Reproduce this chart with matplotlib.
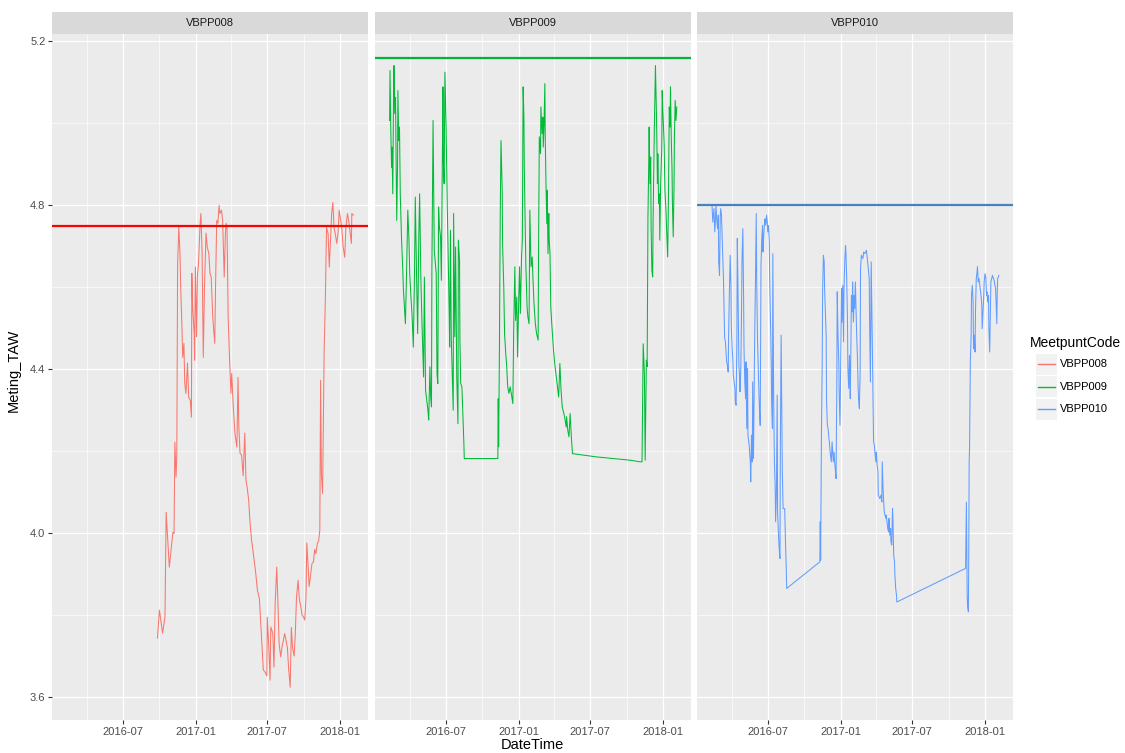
import numpy as np
import pandas as pd
import matplotlib
matplotlib.use('Agg')
import matplotlib.pyplot as plt
import matplotlib.dates as mdates
from matplotlib.patches import Rectangle

plt.rcParams['font.family'] = ['Liberation Sans', 'DejaVu Sans']

# Meting_TAW per meetpunt, dag = days since 2016-01-01
dag_008 = [269, 274, 282, 288, 291, 299, 308, 311, 313, 316,
           318, 320, 323, 326, 328, 331, 333, 336, 338, 341,
           345, 348, 352, 355, 356, 358, 362, 363, 365, 368,
           370, 373, 377, 379, 382, 385, 388, 392, 395, 399,
           402, 405, 409, 414, 416, 419, 422, 425, 427, 431,
           434, 438, 441, 443, 445, 448, 451, 455, 457, 461,
           465, 470, 473, 475, 478, 482, 486, 490, 493, 496,
           500, 503, 507, 513, 518, 522, 527, 530, 534, 537,
           542, 546, 547, 551, 554, 556, 561, 564, 567, 571,
           574, 577, 581, 584, 588, 591, 594, 598, 601, 605,
           608, 611, 615, 618, 621, 625, 628, 632, 635, 638,
           642, 645, 647, 650, 653, 657, 660, 664, 667, 670,
           674, 677, 680, 682, 684, 687, 689, 691, 694, 697,
           701, 704, 707, 710, 713, 716, 719, 723, 726, 729,
           733, 736, 739, 743, 746, 750, 753, 756, 760, 761,
           765]
taw_008 = [3.744, 3.812, 3.756, 3.795, 4.051, 3.917, 4.002, 3.999, 4.222, 4.137,
           4.195, 4.654, 4.746, 4.683, 4.593, 4.502, 4.429, 4.463, 4.366, 4.341,
           4.415, 4.332, 4.324, 4.283, 4.634, 4.551, 4.488, 4.422, 4.649, 4.479,
           4.625, 4.659, 4.756, 4.780, 4.683, 4.429, 4.600, 4.732, 4.698, 4.683,
           4.634, 4.625, 4.527, 4.463, 4.600, 4.763, 4.756, 4.800, 4.780, 4.788,
           4.763, 4.625, 4.731, 4.756, 4.746, 4.527, 4.439, 4.341, 4.390, 4.307,
           4.244, 4.210, 4.380, 4.260, 4.195, 4.190, 4.140, 4.244, 4.130, 4.112,
           4.080, 4.030, 3.985, 3.940, 3.900, 3.861, 3.840, 3.788, 3.723, 3.666,
           3.660, 3.652, 3.795, 3.720, 3.641, 3.771, 3.755, 3.673, 3.829, 3.917,
           3.830, 3.730, 3.698, 3.720, 3.740, 3.755, 3.740, 3.720, 3.670, 3.624,
           3.770, 3.720, 3.700, 3.755, 3.844, 3.885, 3.840, 3.820, 3.800, 3.797,
           3.788, 3.845, 3.976, 3.927, 3.870, 3.900, 3.925, 3.930, 3.960, 3.950,
           3.976, 3.980, 4.007, 4.373, 4.146, 4.097, 4.283, 4.446, 4.568, 4.746,
           4.731, 4.649, 4.715, 4.780, 4.807, 4.746, 4.731, 4.707, 4.731, 4.788,
           4.763, 4.739, 4.699, 4.673, 4.746, 4.780, 4.763, 4.739, 4.707, 4.780,
           4.776]

dag_009 = [39, 40, 42, 44, 45, 47, 49, 50, 52, 54,
           55, 57, 59, 60, 62, 64, 66, 69, 72, 74,
           76, 79, 82, 85, 88, 90, 93, 96, 99, 102,
           104, 107, 110, 113, 115, 118, 121, 125, 127, 130,
           133, 136, 138, 141, 143, 145, 146, 149, 151, 152,
           157, 159, 161, 163, 165, 168, 170, 172, 174, 175,
           177, 179, 182, 185, 188, 190, 191, 193, 195, 197,
           200, 201, 204, 206, 209, 212, 213, 216, 217, 219,
           222, 225, 227, 228, 313, 314, 315, 317, 319, 321,
           324, 325, 328, 330, 333, 335, 338, 341, 344, 347,
           351, 353, 356, 358, 361, 363, 366, 368, 370, 373,
           375, 377, 379, 380, 382, 384, 387, 389, 392, 394,
           397, 400, 402, 405, 408, 411, 415, 416, 418, 421,
           422, 425, 427, 428, 430, 432, 433, 435, 437, 438,
           440, 442, 443, 445, 447, 450, 454, 457, 460, 464,
           467, 470, 473, 476, 480, 482, 486, 487, 490, 493,
           496, 499, 502, 563, 648, 673, 678, 681, 684, 686,
           689, 691, 693, 695, 696, 698, 700, 701, 703, 705,
           706, 709, 711, 712, 715, 717, 718, 720, 722, 723,
           725, 728, 729, 731, 734, 736, 739, 740, 743, 745,
           747, 749, 750, 752, 754, 755, 757, 759, 760, 762,
           764, 766]
taw_009 = [5.007, 5.129, 4.983, 4.893, 4.942, 4.828, 5.080, 5.141, 5.024, 5.064,
           4.950, 4.763, 4.893, 5.080, 4.958, 4.991, 4.828, 4.723, 4.650, 4.593,
           4.560, 4.511, 4.641, 4.788, 4.715, 4.633, 4.576, 4.528, 4.454, 4.633,
           4.820, 4.641, 4.487, 4.731, 4.828, 4.625, 4.511, 4.381, 4.625, 4.349,
           4.324, 4.300, 4.276, 4.406, 4.332, 4.308, 4.641, 5.007, 4.796, 4.690,
           4.633, 4.389, 4.365, 4.796, 4.747, 4.723, 4.617, 4.853, 5.089, 4.910,
           4.853, 5.125, 4.991, 4.796, 4.633, 4.528, 4.454, 4.739, 4.479, 4.406,
           4.300, 4.780, 4.479, 4.698, 4.381, 4.267, 4.715, 4.666, 4.471, 4.365,
           4.357, 4.276, 4.219, 4.182, 4.182, 4.328, 4.211, 4.446, 4.771, 4.958,
           4.837, 4.706, 4.601, 4.487, 4.438, 4.414, 4.357, 4.341, 4.357, 4.341,
           4.316, 4.487, 4.650, 4.519, 4.576, 4.430, 4.576, 4.650, 4.536, 4.674,
           4.715, 5.089, 5.015, 4.885, 4.763, 4.650, 4.552, 4.528, 4.511, 4.788,
           4.650, 4.674, 4.617, 4.552, 4.511, 4.487, 4.471, 4.682, 4.967, 4.926,
           5.040, 4.975, 5.015, 4.942, 4.999, 5.097, 4.967, 4.845, 4.755, 4.837,
           4.682, 4.780, 4.715, 4.682, 4.552, 4.503, 4.446, 4.414, 4.389, 4.357,
           4.332, 4.414, 4.349, 4.308, 4.292, 4.284, 4.259, 4.284, 4.251, 4.235,
           4.292, 4.235, 4.194, 4.186, 4.178, 4.174, 4.174, 4.462, 4.389, 4.178,
           4.422, 4.406, 4.771, 4.902, 4.991, 4.853, 4.918, 4.747, 4.641, 4.625,
           4.763, 4.975, 5.089, 5.141, 4.999, 4.853, 4.926, 4.804, 4.828, 4.715,
           4.845, 4.942, 5.080, 5.024, 4.950, 4.837, 4.780, 4.747, 4.674, 4.828,
           5.040, 4.991, 5.089, 4.967, 4.885, 4.804, 4.723, 4.845, 4.967, 5.056,
           5.007, 5.040]

dag_010 = [40, 42, 45, 47, 49, 50, 52, 54, 56, 57,
           59, 61, 62, 64, 66, 67, 69, 71, 72, 74,
           76, 77, 79, 81, 82, 84, 86, 88, 89, 91,
           93, 94, 96, 98, 99, 101, 103, 104, 106, 108,
           110, 111, 113, 115, 116, 118, 120, 121, 123, 125,
           126, 128, 130, 131, 134, 137, 138, 140, 142, 143,
           145, 147, 148, 150, 152, 153, 155, 157, 158, 160,
           162, 163, 164, 166, 168, 169, 171, 173, 174, 176,
           178, 180, 181, 183, 185, 186, 188, 190, 191, 193,
           194, 196, 198, 200, 201, 203, 205, 206, 208, 210,
           212, 213, 215, 217, 218, 220, 224, 226, 228, 229,
           313, 314, 315, 317, 319, 320, 322, 324, 325, 327,
           329, 330, 332, 334, 336, 337, 339, 341, 342, 344,
           346, 347, 349, 351, 352, 354, 356, 357, 359, 361,
           362, 364, 366, 368, 369, 371, 373, 374, 376, 378,
           379, 381, 383, 384, 386, 388, 390, 391, 393, 395,
           396, 398, 400, 401, 403, 405, 406, 408, 410, 411,
           413, 415, 416, 418, 422, 424, 427, 431, 434, 438,
           439, 441, 443, 444, 446, 448, 449, 451, 453, 455,
           456, 458, 460, 461, 465, 468, 470, 471, 473, 475,
           476, 478, 480, 481, 483, 485, 487, 488, 490, 492,
           493, 495, 497, 498, 500, 502, 503, 505, 507, 508,
           682, 684, 686, 687, 689, 690, 691, 692, 694, 696,
           697, 699, 701, 702, 704, 706, 707, 709, 711, 712,
           714, 716, 718, 719, 721, 723, 724, 726, 728, 729,
           731, 733, 735, 736, 738, 740, 741, 743, 745, 746,
           748, 750, 751, 753, 755, 756, 758, 760, 761, 762,
           763, 765, 766]
taw_010 = [4.800, 4.759, 4.792, 4.735, 4.767, 4.800, 4.767, 4.743, 4.776, 4.662,
           4.629, 4.776, 4.792, 4.776, 4.711, 4.678, 4.621, 4.532, 4.475, 4.467,
           4.434, 4.418, 4.410, 4.393, 4.483, 4.589, 4.678, 4.597, 4.499, 4.450,
           4.418, 4.385, 4.369, 4.353, 4.320, 4.312, 4.475, 4.719, 4.580, 4.410,
           4.377, 4.345, 4.410, 4.564, 4.670, 4.743, 4.572, 4.450, 4.369, 4.328,
           4.418, 4.255, 4.402, 4.239, 4.215, 4.174, 4.125, 4.239, 4.174, 4.369,
           4.182, 4.369, 4.475, 4.613, 4.780, 4.629, 4.483, 4.402, 4.369, 4.304,
           4.263, 4.442, 4.654, 4.719, 4.751, 4.686, 4.727, 4.759, 4.767, 4.751,
           4.776, 4.759, 4.735, 4.751, 4.711, 4.621, 4.515, 4.418, 4.320, 4.255,
           4.682, 4.337, 4.174, 4.109, 4.028, 4.093, 4.337, 4.052, 4.003, 3.963,
           3.938, 4.206, 4.483, 4.255, 4.150, 4.060, 4.060, 3.979, 3.914, 3.865,
           3.930, 4.028, 3.934, 4.239, 4.418, 4.589, 4.678, 4.662, 4.597, 4.540,
           4.483, 4.320, 4.263, 4.255, 4.231, 4.223, 4.198, 4.182, 4.174, 4.223,
           4.190, 4.174, 4.198, 4.166, 4.158, 4.133, 4.369, 4.589, 4.483, 4.418,
           4.337, 4.263, 4.442, 4.597, 4.515, 4.605, 4.467, 4.589, 4.662, 4.702,
           4.686, 4.621, 4.515, 4.402, 4.353, 4.434, 4.328, 4.402, 4.580, 4.540,
           4.613, 4.515, 4.580, 4.548, 4.613, 4.532, 4.491, 4.434, 4.353, 4.328,
           4.304, 4.393, 4.645, 4.678, 4.670, 4.686, 4.682, 4.690, 4.662, 4.621,
           4.515, 4.369, 4.662, 4.597, 4.450, 4.304, 4.223, 4.215, 4.190, 4.174,
           4.198, 4.166, 4.150, 4.093, 4.084, 4.093, 4.076, 4.174, 4.109, 4.068,
           4.052, 4.044, 4.036, 4.044, 4.028, 4.011, 4.003, 4.036, 3.995, 4.011,
           3.979, 3.971, 4.060, 4.036, 3.946, 3.930, 3.898, 3.865, 3.849, 3.832,
           3.914, 4.076, 3.849, 3.824, 3.808, 3.946, 4.174, 4.206, 4.418, 4.483,
           4.580, 4.605, 4.564, 4.450, 4.483, 4.442, 4.540, 4.621, 4.637, 4.650,
           4.613, 4.621, 4.605, 4.597, 4.580, 4.556, 4.499, 4.540, 4.580, 4.613,
           4.633, 4.625, 4.580, 4.589, 4.564, 4.580, 4.499, 4.442, 4.556, 4.613,
           4.621, 4.629, 4.625, 4.621, 4.613, 4.605, 4.597, 4.540, 4.511, 4.580,
           4.621, 4.625, 4.629]

codes = ['VBPP008', 'VBPP009', 'VBPP010']
dagen = [dag_008, dag_009, dag_010]
taws = [taw_008, taw_009, taw_010]
kleuren = ['#F8766D', '#00BA38', '#619CFF']
ref_taw = [4.75, 5.16, 4.80]
ref_kleur = ['#FF0000', '#00B33C', '#4A80C0']

start = pd.Timestamp('2016-01-01')
major_dates = pd.to_datetime(['2016-07-01', '2017-01-01', '2017-07-01', '2018-01-01'])
minor_dates = pd.to_datetime(['2016-04-01', '2016-10-01', '2017-04-01', '2017-10-01'])
xlim = pd.to_datetime(['2016-01-03', '2018-03-13'])

W, H = 1125, 753
fig = plt.figure(figsize=(W / 100, H / 100), dpi=100)
panel_left = [52, 375, 697]
pw = 316
ptop, pbot = 34, 720

for i, code in enumerate(codes):
    l = panel_left[i]
    ax = fig.add_axes([l / W, (H - pbot) / H, pw / W, (pbot - ptop) / H])
    ax.set_facecolor('#EBEBEB')
    for s in ax.spines.values():
        s.set_visible(False)

    d = start + pd.to_timedelta(dagen[i], unit='D')
    ax.plot(d, taws[i], color=kleuren[i], lw=0.75, zorder=3)
    ax.axhline(ref_taw[i], color=ref_kleur[i], lw=1.6, zorder=4)

    ax.set_xlim(xlim[0], xlim[1])
    ax.set_ylim(3.544, 5.218)
    ax.set_xticks(mdates.date2num(major_dates))
    ax.set_xticks(mdates.date2num(minor_dates), minor=True)
    ax.xaxis.set_major_formatter(mdates.DateFormatter('%Y-%m'))
    ax.set_yticks([3.6, 4.0, 4.4, 4.8, 5.2])
    ax.set_yticks([3.8, 4.2, 4.6, 5.0], minor=True)
    ax.set_yticklabels(['3.6', '4.0', '4.4', '4.8', '5.2'])
    ax.grid(which='major', color='white', lw=0.9, zorder=0)
    ax.grid(which='minor', color='white', lw=0.45, zorder=0)
    ax.set_axisbelow(True)
    ax.tick_params(which='major', length=2.7, width=0.8, color='#333333',
                   labelsize=8, labelcolor='#4D4D4D', pad=2)
    ax.tick_params(which='minor', length=0)
    if i > 0:
        ax.tick_params(axis='y', which='major', length=0, labelleft=False)

    sax = fig.add_axes([l / W, (H - ptop) / H, pw / W, 22 / H])
    sax.set_facecolor('#D9D9D9')
    sax.set_xticks([])
    sax.set_yticks([])
    for s in sax.spines.values():
        s.set_visible(False)
    sax.text(0.5, 0.5, code, ha='center', va='center', fontsize=8, color='#1A1A1A')

fig.text(14 / W, 1 - 370 / H, 'Meting_TAW', rotation=90, ha='center', va='center',
         fontsize=10.5, color='black')
fig.text(532 / W, 1 - 745 / H, 'DateTime', ha='center', va='center',
         fontsize=10.5, color='black')

# legend
lax = fig.add_axes([0, 0, 1, 1], zorder=10)
lax.set_xlim(0, W)
lax.set_ylim(H, 0)
lax.axis('off')
lax.text(1030, 343, 'MeetpuntCode', ha='left', va='center', fontsize=10, color='black')
for i, code in enumerate(codes):
    yc = 364 + i * 22.5
    lax.add_patch(Rectangle((1036, yc - 10.5), 21, 21, facecolor='#F2F2F2', edgecolor='none'))
    lax.plot([1038, 1055], [yc, yc], color=kleuren[i], lw=1.0)
    lax.text(1060, yc, code, ha='left', va='center', fontsize=8, color='black')

fig.savefig('out.png', dpi=100)
